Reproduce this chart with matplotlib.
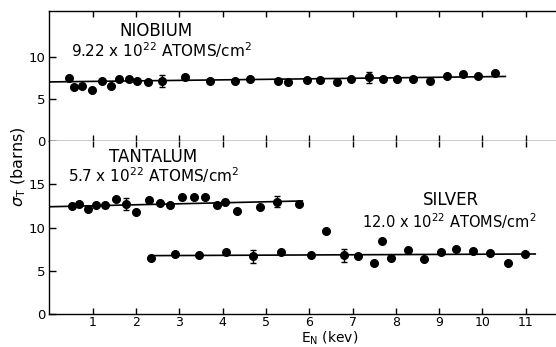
import numpy as np
import matplotlib
matplotlib.use('Agg')
import matplotlib.pyplot as plt

plt.rcParams['font.family'] = ['DejaVu Sans']
plt.rcParams['mathtext.fontset'] = 'dejavusans'

# niobium (top panel)
nb_e = [0.45, 0.56, 0.76, 0.98, 1.21, 1.41, 1.61, 1.83, 2.01, 2.27, 2.6, 3.13,
        3.71, 4.29, 4.64, 5.28, 5.52, 5.95, 6.25, 6.63, 6.96, 7.37, 7.7, 8.03,
        8.4, 8.8, 9.18, 9.55, 9.9, 10.28]
nb_sigma = [7.5, 6.5, 6.6, 6.1, 7.1, 6.6, 7.4, 7.45, 7.2, 7.06, 7.2, 7.6,
            7.2, 7.1, 7.4, 7.1, 7.0, 7.3, 7.25, 7.06, 7.4, 7.6, 7.4, 7.4,
            7.4, 7.2, 7.8, 8.0, 7.7, 8.1]
nb_err = [0, 0, 0, 0, 0, 0, 0, 0, 0, 0, 0.7, 0,
          0, 0, 0, 0, 0, 0, 0, 0, 0, 0.65, 0, 0,
          0, 0, 0, 0, 0, 0]
nb_fit_e = [0.0, 10.53]
nb_fit_sigma = [7.05, 7.7]

# tantalum (bottom panel)
ta_e = [0.53, 0.68, 0.88, 1.07, 1.28, 1.53, 1.77, 1.99, 2.29, 2.55, 2.79, 3.07,
        3.33, 3.59, 3.86, 4.06, 4.33, 4.87, 5.26, 5.77]
ta_sigma = [12.44, 12.67, 12.14, 12.64, 12.6, 13.26, 12.7, 11.83, 13.18, 12.87,
            12.6, 13.5, 13.5, 13.55, 12.56, 13.0, 11.87, 12.33, 13.0, 12.7]
ta_err = [0, 0, 0, 0, 0, 0, 0.7, 0, 0, 0, 0, 0,
          0, 0, 0, 0, 0, 0, 0.65, 0]
ta_fit_e = [0.0, 5.84]
ta_fit_sigma = [12.4, 13.07]

# silver (bottom panel)
ag_e = [2.35, 2.89, 3.45, 4.08, 4.71, 5.35, 6.04, 6.38, 6.81, 7.13, 7.5, 7.68,
        7.9, 8.29, 8.65, 9.04, 9.38, 9.79, 10.17, 10.59, 10.98]
ag_sigma = [6.47, 6.94, 6.79, 7.14, 6.67, 7.14, 6.83, 9.65, 6.79, 6.67, 5.9, 8.45,
            6.44, 7.37, 6.32, 7.17, 7.56, 7.33, 7.02, 5.93, 6.98]
ag_err = [0, 0, 0, 0, 0.75, 0, 0, 0, 0.75, 0, 0, 0,
          0, 0, 0, 0, 0, 0, 0, 0, 0]
ag_fit_e = [2.35, 11.22]
ag_fit_sigma = [6.75, 6.94]

x_ticks = [1, 2, 3, 4, 5, 6, 7, 8, 9, 10, 11]


def draw_set(ax, e, sigma, err, fit_e, fit_sigma):
    e = np.array(e)
    sigma = np.array(sigma)
    err = np.array(err)
    ax.plot(fit_e, fit_sigma, color='black', lw=1.2, zorder=2)
    ax.plot(e, sigma, 'o', color='black', ms=5.5, zorder=3)
    m = err > 0
    ax.errorbar(e[m], sigma[m], yerr=err[m], fmt='none', ecolor='black',
                elinewidth=1.0, capsize=2.5, capthick=1.0, zorder=3)


fig = plt.figure(figsize=(5.56, 3.47), dpi=100)
left, right = 0.089, 1.0
top, bottom = 0.968, 0.095
split = 1 - 141 / 347
ax1 = fig.add_axes([left, split, right - left, top - split])
ax2 = fig.add_axes([left, bottom, right - left, split - bottom])

draw_set(ax1, nb_e, nb_sigma, nb_err, nb_fit_e, nb_fit_sigma)
draw_set(ax2, ta_e, ta_sigma, ta_err, ta_fit_e, ta_fit_sigma)
draw_set(ax2, ag_e, ag_sigma, ag_err, ag_fit_e, ag_fit_sigma)

for ax in (ax1, ax2):
    ax.set_xlim(0, 11.7)
    ax.set_xticks(x_ticks)
    ax.spines['right'].set_visible(False)
    for s in ax.spines.values():
        s.set_linewidth(1.0)
    ax.tick_params(axis='y', direction='in', length=5, width=1.0,
                   labelsize=9.5, pad=3)
    ax.tick_params(axis='x', direction='in', length=4.5, width=1.0,
                   labelsize=9, pad=1.5)

ax1.set_ylim(0, 15.5)
ax1.set_yticks([0, 5, 10])
ax1.tick_params(axis='x', top=True, bottom=True, labelbottom=False)

ax2.set_ylim(0, 20)
ax2.set_yticks([0, 5, 10, 15])
ax2.spines['top'].set_visible(False)
ax2.tick_params(axis='x', top=True, bottom=True)

ax1.text(2.45, 13.1, 'NIOBIUM', ha='center', va='center', fontsize=12)
ax1.text(2.59, 10.9, r'9.22 x 10$^{22}$ ATOMS/cm$^2$', ha='center',
         va='center', fontsize=11)
ax2.text(2.39, 18.2, 'TANTALUM', ha='center', va='center', fontsize=12)
ax2.text(2.41, 16.0, r'5.7 x 10$^{22}$ ATOMS/cm$^2$', ha='center',
         va='center', fontsize=11)
ax2.text(9.27, 13.2, 'SILVER', ha='center', va='center', fontsize=12)
ax2.text(9.23, 10.7, r'12.0 x 10$^{22}$ ATOMS/cm$^2$', ha='center',
         va='center', fontsize=10.5)

fig.text(0.034, 0.52, r'$\sigma_{\rm T}$ (barns)', rotation=90,
         ha='center', va='center', fontsize=11.5)
fig.text(0.593, 0.0, r'E$_{\rm N}$ (kev)', ha='center', va='bottom',
         fontsize=10)

fig.savefig('out.png', dpi=100)
